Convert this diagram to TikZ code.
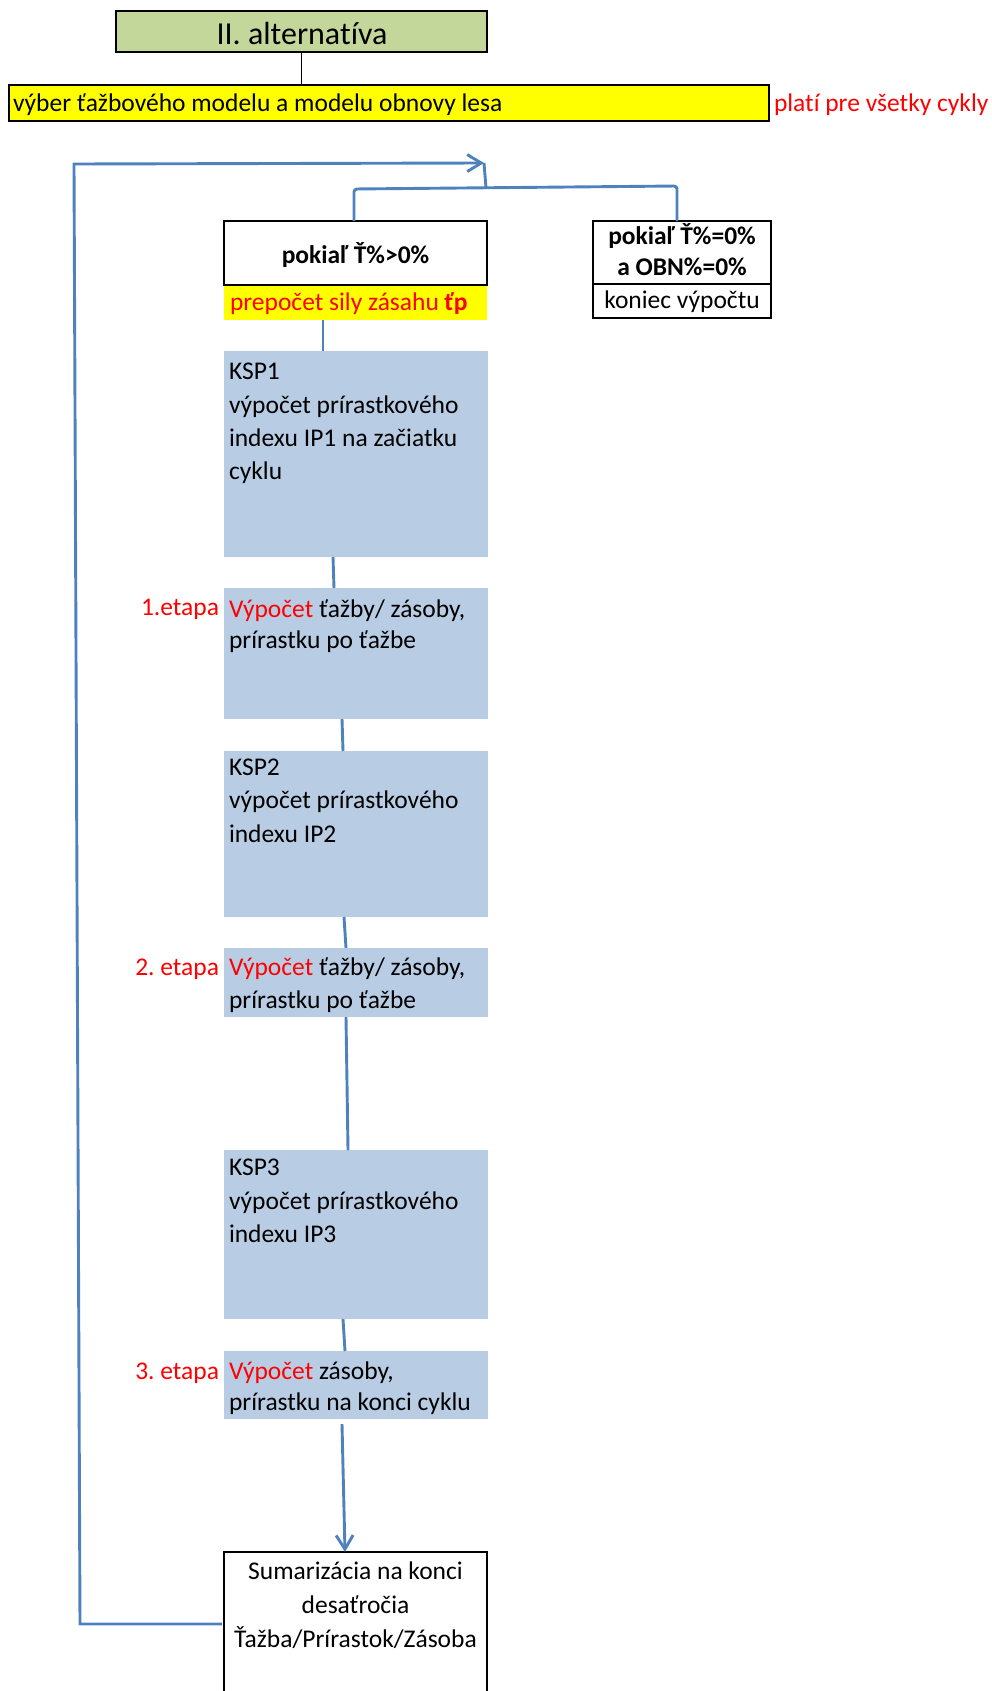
\documentclass[tikz,border=0pt]{standalone}
\usepackage{fontspec}
\setmainfont{Carlito}[Ligatures={NoCommon,NoContextual}]
\frenchspacing
\usetikzlibrary{arrows.meta,calc}
\definecolor{titlegreen}{HTML}{C4D79B}
\definecolor{blu}{HTML}{B8CCE4}
\definecolor{conn}{HTML}{4F81BD}
\definecolor{ylw}{HTML}{FFFF00}
\definecolor{rd}{HTML}{FF0000}
\begin{document}
\begin{tikzpicture}[x=1pt,y=-1pt,
  box/.style={rectangle, inner sep=0pt, outer sep=0pt, anchor=north west},
  bluebox/.style={box, fill=blu, minimum width=264pt},
  txt/.style={inner sep=0pt, outer sep=0pt, font=\fontsize{25.5}{30}\selectfont},
  lt/.style={txt, anchor=base west},
  ct/.style={txt, anchor=base},
  rt/.style={txt, anchor=base east, text=rd},
  bt/.style={txt, anchor=base, font=\fontsize{25.5}{30}\selectfont\bfseries},
  cline/.style={draw=conn, line width=2.9pt},
  barb/.style={-{Straight Barb[length=14pt,width=17pt]}},
]
\useasboundingbox (0,0) rectangle (992,1691);

% title
\node[box, fill=titlegreen, draw=black, line width=1.6pt, minimum width=371pt, minimum height=41pt] (title) at (116,11) {};
\node[txt, anchor=base, font=\fontsize{32}{36}\selectfont] (titletxt) at (302,45) {II. alternatíva};

% yellow bar
\node[box, fill=ylw, draw=black, line width=1.3pt, minimum width=760pt, minimum height=36pt] (bar) at (9,85) {};
\node[lt] (bartxt) at (13,112) {výber ťažbového modelu a modelu obnovy lesa};
\node[lt, text=rd] (barnote) at (774,112) {platí pre všetky cykly};
\draw[line width=1.6pt] (title.south) -- (title.south |- bar.north);

% condition 1
\node[box, fill=white, draw=black, line width=2pt, minimum width=263pt, minimum height=64pt] (cond1) at (224,221) {};
\node[bt] (cond1txt) at (355.5,263) {pokiaľ Ť\%>0\%};
\node[box, fill=ylw, minimum width=263pt, minimum height=34pt] (tp) at (224,286) {};
\node[lt, text=rd] (tptxt) at (230,310) {prepočet sily zásahu \textbf{ťp}};

% condition 2
\node[box, draw=black, line width=1.6pt, minimum width=178pt, minimum height=63pt] (cond2a) at (593,221) {};
\node[box, draw=black, line width=1.6pt, minimum width=178pt, minimum height=34pt] (cond2b) at (593,284) {};
\node[bt] (c2l1) at (682,244) {pokiaľ Ť\%=0\%};
\node[bt] (c2l2) at (682,275) {a OBN\%=0\%};
\node[ct] (c2l3) at (682,308) {koniec výpočtu};

% KSP1
\node[bluebox, minimum height=206pt] (ksp1) at (224,351) {};
\node[lt] (k1a) at (229,379) {KSP1};
\node[lt] (k1b) at (229,413) {výpočet prírastkového};
\node[lt] (k1c) at (229,446) {indexu IP1 na začiatku};
\node[lt] (k1d) at (229,479) {cyklu};

% etapa 1
\node[bluebox, minimum height=131pt] (e1) at (224,588) {};
\node[lt] (e1a) at (229,617) {\textcolor{rd}{Výpočet} ťažby/ zásoby,};
\node[lt] (e1b) at (229,648) {prírastku po ťažbe};
\node[rt] (e1lab) at (219,615) {1.etapa};

% KSP2
\node[bluebox, minimum height=166pt] (ksp2) at (224,751) {};
\node[lt] (k2a) at (229,775) {KSP2};
\node[lt] (k2b) at (229,808) {výpočet prírastkového};
\node[lt] (k2c) at (229,842) {indexu IP2};

% etapa 2
\node[bluebox, minimum height=69pt] (e2) at (224,948) {};
\node[lt] (e2a) at (229,975) {\textcolor{rd}{Výpočet} ťažby/ zásoby,};
\node[lt] (e2b) at (229,1008) {prírastku po ťažbe};
\node[rt] (e2lab) at (219,975) {2. etapa};

% KSP3
\node[bluebox, minimum height=169pt] (ksp3) at (224,1150) {};
\node[lt] (k3a) at (229,1175) {KSP3};
\node[lt] (k3b) at (229,1209) {výpočet prírastkového};
\node[lt] (k3c) at (229,1242) {indexu IP3};

% etapa 3
\node[bluebox, minimum height=68pt] (e3) at (224,1351) {};
\node[lt] (e3a) at (229,1379) {\textcolor{rd}{Výpočet} zásoby,};
\node[lt] (e3b) at (229,1410) {prírastku na konci cyklu};
\node[rt] (e3lab) at (219,1379) {3. etapa};

% summary (open at the bottom edge)
\node[box, minimum width=263pt, minimum height=150pt] (sum) at (224,1552) {};
\draw[line width=2pt] (sum.south west) -- (sum.north west) -- (sum.north east) -- (sum.south east);
\node[ct] (s1) at (355.5,1579) {Sumarizácia na konci};
\node[ct] (s2) at (355.5,1613) {desaťročia};
\node[ct] (s3) at (355.5,1647) {Ťažba/Prírastok/Zásoba};

% connectors
\coordinate (tip) at (484,163);
\coordinate (jn) at (486,188);
\draw[cline] ($(tp.south west)+(99,0)$) -- ($(ksp1.north west)+(99,0)$);
\draw[cline] ($(ksp1.south west)+(109,0)$) -- ($(e1.north west)+(110,0)$);
\draw[cline] ($(e1.south west)+(118,0)$) -- ($(ksp2.north west)+(119,0)$);
\draw[cline] ($(ksp2.south west)+(120,0)$) -- ($(e2.north west)+(122,0)$);
\draw[cline] ($(e2.south west)+(122,0)$) -- ($(ksp3.north west)+(124,0)$);
\draw[cline] ($(ksp3.south west)+(119,0)$) -- ($(e3.north west)+(121,0)$);
\draw[cline, barb] ($(e3.south west)+(118,5)$) -- ($(sum.north west)+(121,0)$);
\draw[cline, barb] ($(sum.north west)+(-2,72)$) -- (80,1624) -- (74,164) -- (tip);
\draw[cline, rounded corners=3pt] (cond1.north -| 354,0) -- (354,189) -- (677,186) -- ($(cond2a.north)+(-5,0)$);
\draw[cline] (jn) -- (tip);
\end{tikzpicture}
\end{document}
